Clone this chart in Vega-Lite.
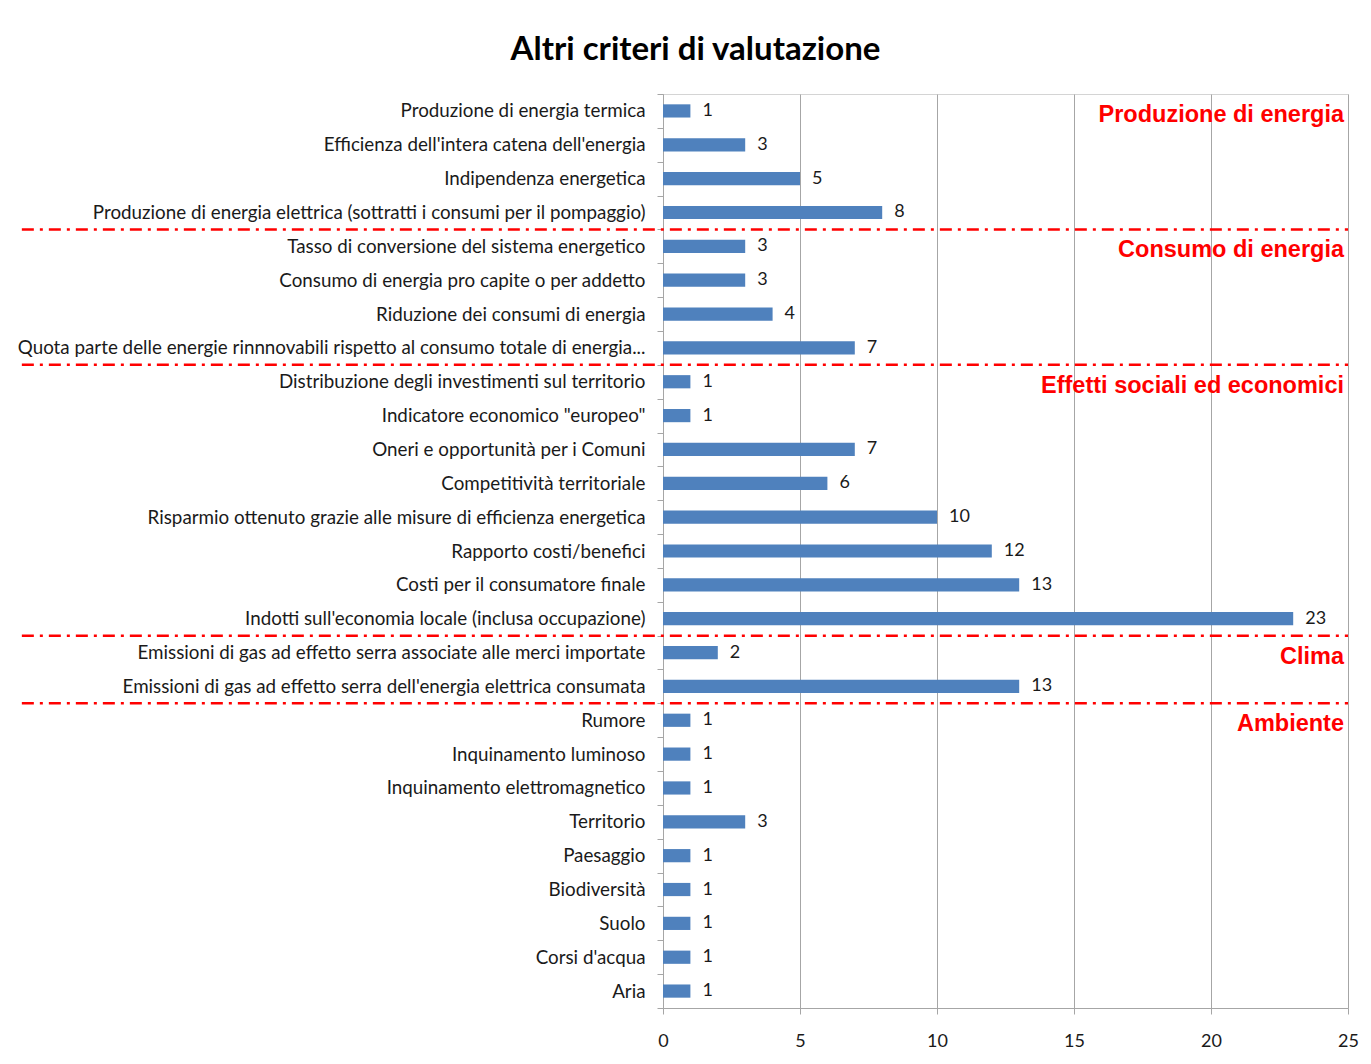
{
  "$schema": "https://vega.github.io/schema/vega-lite/v6.json",
  "width": 685,
  "height": 914,
  "autosize": {"type": "none"},
  "padding": {"left": 663, "top": 94, "right": 23, "bottom": 56},
  "background": "white",
  "title": {
    "text": "Altri criteri di valutazione",
    "font": "Lato",
    "fontSize": 33,
    "fontWeight": "bold",
    "color": "#000000",
    "anchor": "middle",
    "dx": -310,
    "offset": 18
  },
  "config": {"view": {"stroke": "#D4D4D4", "strokeWidth": 1}},
  "data": {
    "values": [
      {"criterio": "Produzione di energia termica", "valore": 1, "gruppo": "Produzione di energia"},
      {"criterio": "Efficienza dell'intera catena dell'energia", "valore": 3, "gruppo": "Produzione di energia"},
      {"criterio": "Indipendenza energetica", "valore": 5, "gruppo": "Produzione di energia"},
      {"criterio": "Produzione di energia elettrica (sottratti i consumi per il pompaggio)", "valore": 8, "gruppo": "Produzione di energia"},
      {"criterio": "Tasso di conversione del sistema energetico", "valore": 3, "gruppo": "Consumo di energia"},
      {"criterio": "Consumo di energia pro capite o per addetto ", "valore": 3, "gruppo": "Consumo di energia"},
      {"criterio": "Riduzione dei consumi di energia", "valore": 4, "gruppo": "Consumo di energia"},
      {"criterio": "Quota parte delle energie rinnnovabili rispetto al consumo totale di energia...", "valore": 7, "gruppo": "Consumo di energia"},
      {"criterio": "Distribuzione degli investimenti sul territorio", "valore": 1, "gruppo": "Effetti sociali ed economici"},
      {"criterio": "Indicatore economico \"europeo\"", "valore": 1, "gruppo": "Effetti sociali ed economici"},
      {"criterio": "Oneri e opportunità per i Comuni", "valore": 7, "gruppo": "Effetti sociali ed economici"},
      {"criterio": "Competitività territoriale", "valore": 6, "gruppo": "Effetti sociali ed economici"},
      {"criterio": "Risparmio ottenuto grazie alle misure di efficienza energetica", "valore": 10, "gruppo": "Effetti sociali ed economici"},
      {"criterio": "Rapporto costi/benefici ", "valore": 12, "gruppo": "Effetti sociali ed economici"},
      {"criterio": "Costi per il consumatore finale ", "valore": 13, "gruppo": "Effetti sociali ed economici"},
      {"criterio": "Indotti sull'economia locale (inclusa occupazione)", "valore": 23, "gruppo": "Effetti sociali ed economici"},
      {"criterio": "Emissioni di gas ad effetto serra associate alle merci importate", "valore": 2, "gruppo": "Clima"},
      {"criterio": "Emissioni di gas ad effetto serra dell'energia elettrica consumata", "valore": 13, "gruppo": "Clima"},
      {"criterio": "Rumore", "valore": 1, "gruppo": "Ambiente"},
      {"criterio": "Inquinamento luminoso", "valore": 1, "gruppo": "Ambiente"},
      {"criterio": "Inquinamento elettromagnetico", "valore": 1, "gruppo": "Ambiente"},
      {"criterio": "Territorio", "valore": 3, "gruppo": "Ambiente"},
      {"criterio": "Paesaggio", "valore": 1, "gruppo": "Ambiente"},
      {"criterio": "Biodiversità", "valore": 1, "gruppo": "Ambiente"},
      {"criterio": "Suolo", "valore": 1, "gruppo": "Ambiente"},
      {"criterio": "Corsi d'acqua", "valore": 1, "gruppo": "Ambiente"},
      {"criterio": "Aria", "valore": 1, "gruppo": "Ambiente"}
    ]
  },
  "encoding": {
    "y": {
      "field": "criterio",
      "type": "nominal",
      "sort": null,
      "scale": {"paddingInner": 0, "paddingOuter": 0},
      "axis": {
        "title": null,
        "labelFont": "Lato",
        "labelFontSize": 18.8,
        "labelColor": "#1a1a1a",
        "labelLimit": 800,
        "labelPadding": 12,
        "domainColor": "#A6A6A6",
        "tickColor": "#A6A6A6",
        "tickSize": 6,
        "tickBand": "extent",
        "grid": false
      }
    }
  },
  "layer": [
    {
      "mark": {"type": "bar", "color": "#4F81BD", "height": {"band": 0.39}},
      "encoding": {
        "x": {
          "field": "valore",
          "type": "quantitative",
          "scale": {"domain": [0, 25], "nice": false},
          "axis": {
            "title": null,
            "values": [0, 5, 10, 15, 20, 25],
            "labelFont": "Lato",
            "labelFontSize": 18,
            "labelColor": "#1a1a1a",
            "labelPadding": 18,
            "labelFlush": false,
            "grid": true,
            "gridColor": "#A6A6A6",
            "domainColor": "#A6A6A6",
            "tickColor": "#A6A6A6",
            "tickSize": 6
          }
        }
      }
    },
    {
      "mark": {"type": "text", "align": "left", "baseline": "middle", "dx": 12, "font": "Lato", "fontSize": 18, "color": "#1a1a1a"},
      "encoding": {
        "x": {"field": "valore", "type": "quantitative"},
        "text": {"field": "valore", "type": "quantitative"}
      }
    },
    {
      "transform": [
        {"filter": {"field": "criterio", "oneOf": [
          "Tasso di conversione del sistema energetico",
          "Distribuzione degli investimenti sul territorio",
          "Emissioni di gas ad effetto serra associate alle merci importate",
          "Rumore"
        ]}}
      ],
      "mark": {"type": "rule", "color": "#FF0000", "strokeWidth": 2.5, "strokeDash": [12, 6, 3, 6]},
      "encoding": {
        "y": {"field": "criterio", "type": "nominal", "sort": null, "bandPosition": 0},
        "x": {"datum": -23.4},
        "x2": {"datum": 25}
      }
    },
    {
      "transform": [
        {"filter": {"field": "criterio", "oneOf": [
          "Produzione di energia termica",
          "Tasso di conversione del sistema energetico",
          "Distribuzione degli investimenti sul territorio",
          "Emissioni di gas ad effetto serra associate alle merci importate",
          "Rumore"
        ]}}
      ],
      "mark": {"type": "text", "align": "right", "baseline": "middle", "dx": -4, "dy": 4, "font": "Liberation Sans", "fontWeight": "bold", "fontSize": 23.5, "color": "#FF0000"},
      "encoding": {
        "x": {"datum": 25},
        "text": {"field": "gruppo", "type": "nominal"}
      }
    }
  ]
}
